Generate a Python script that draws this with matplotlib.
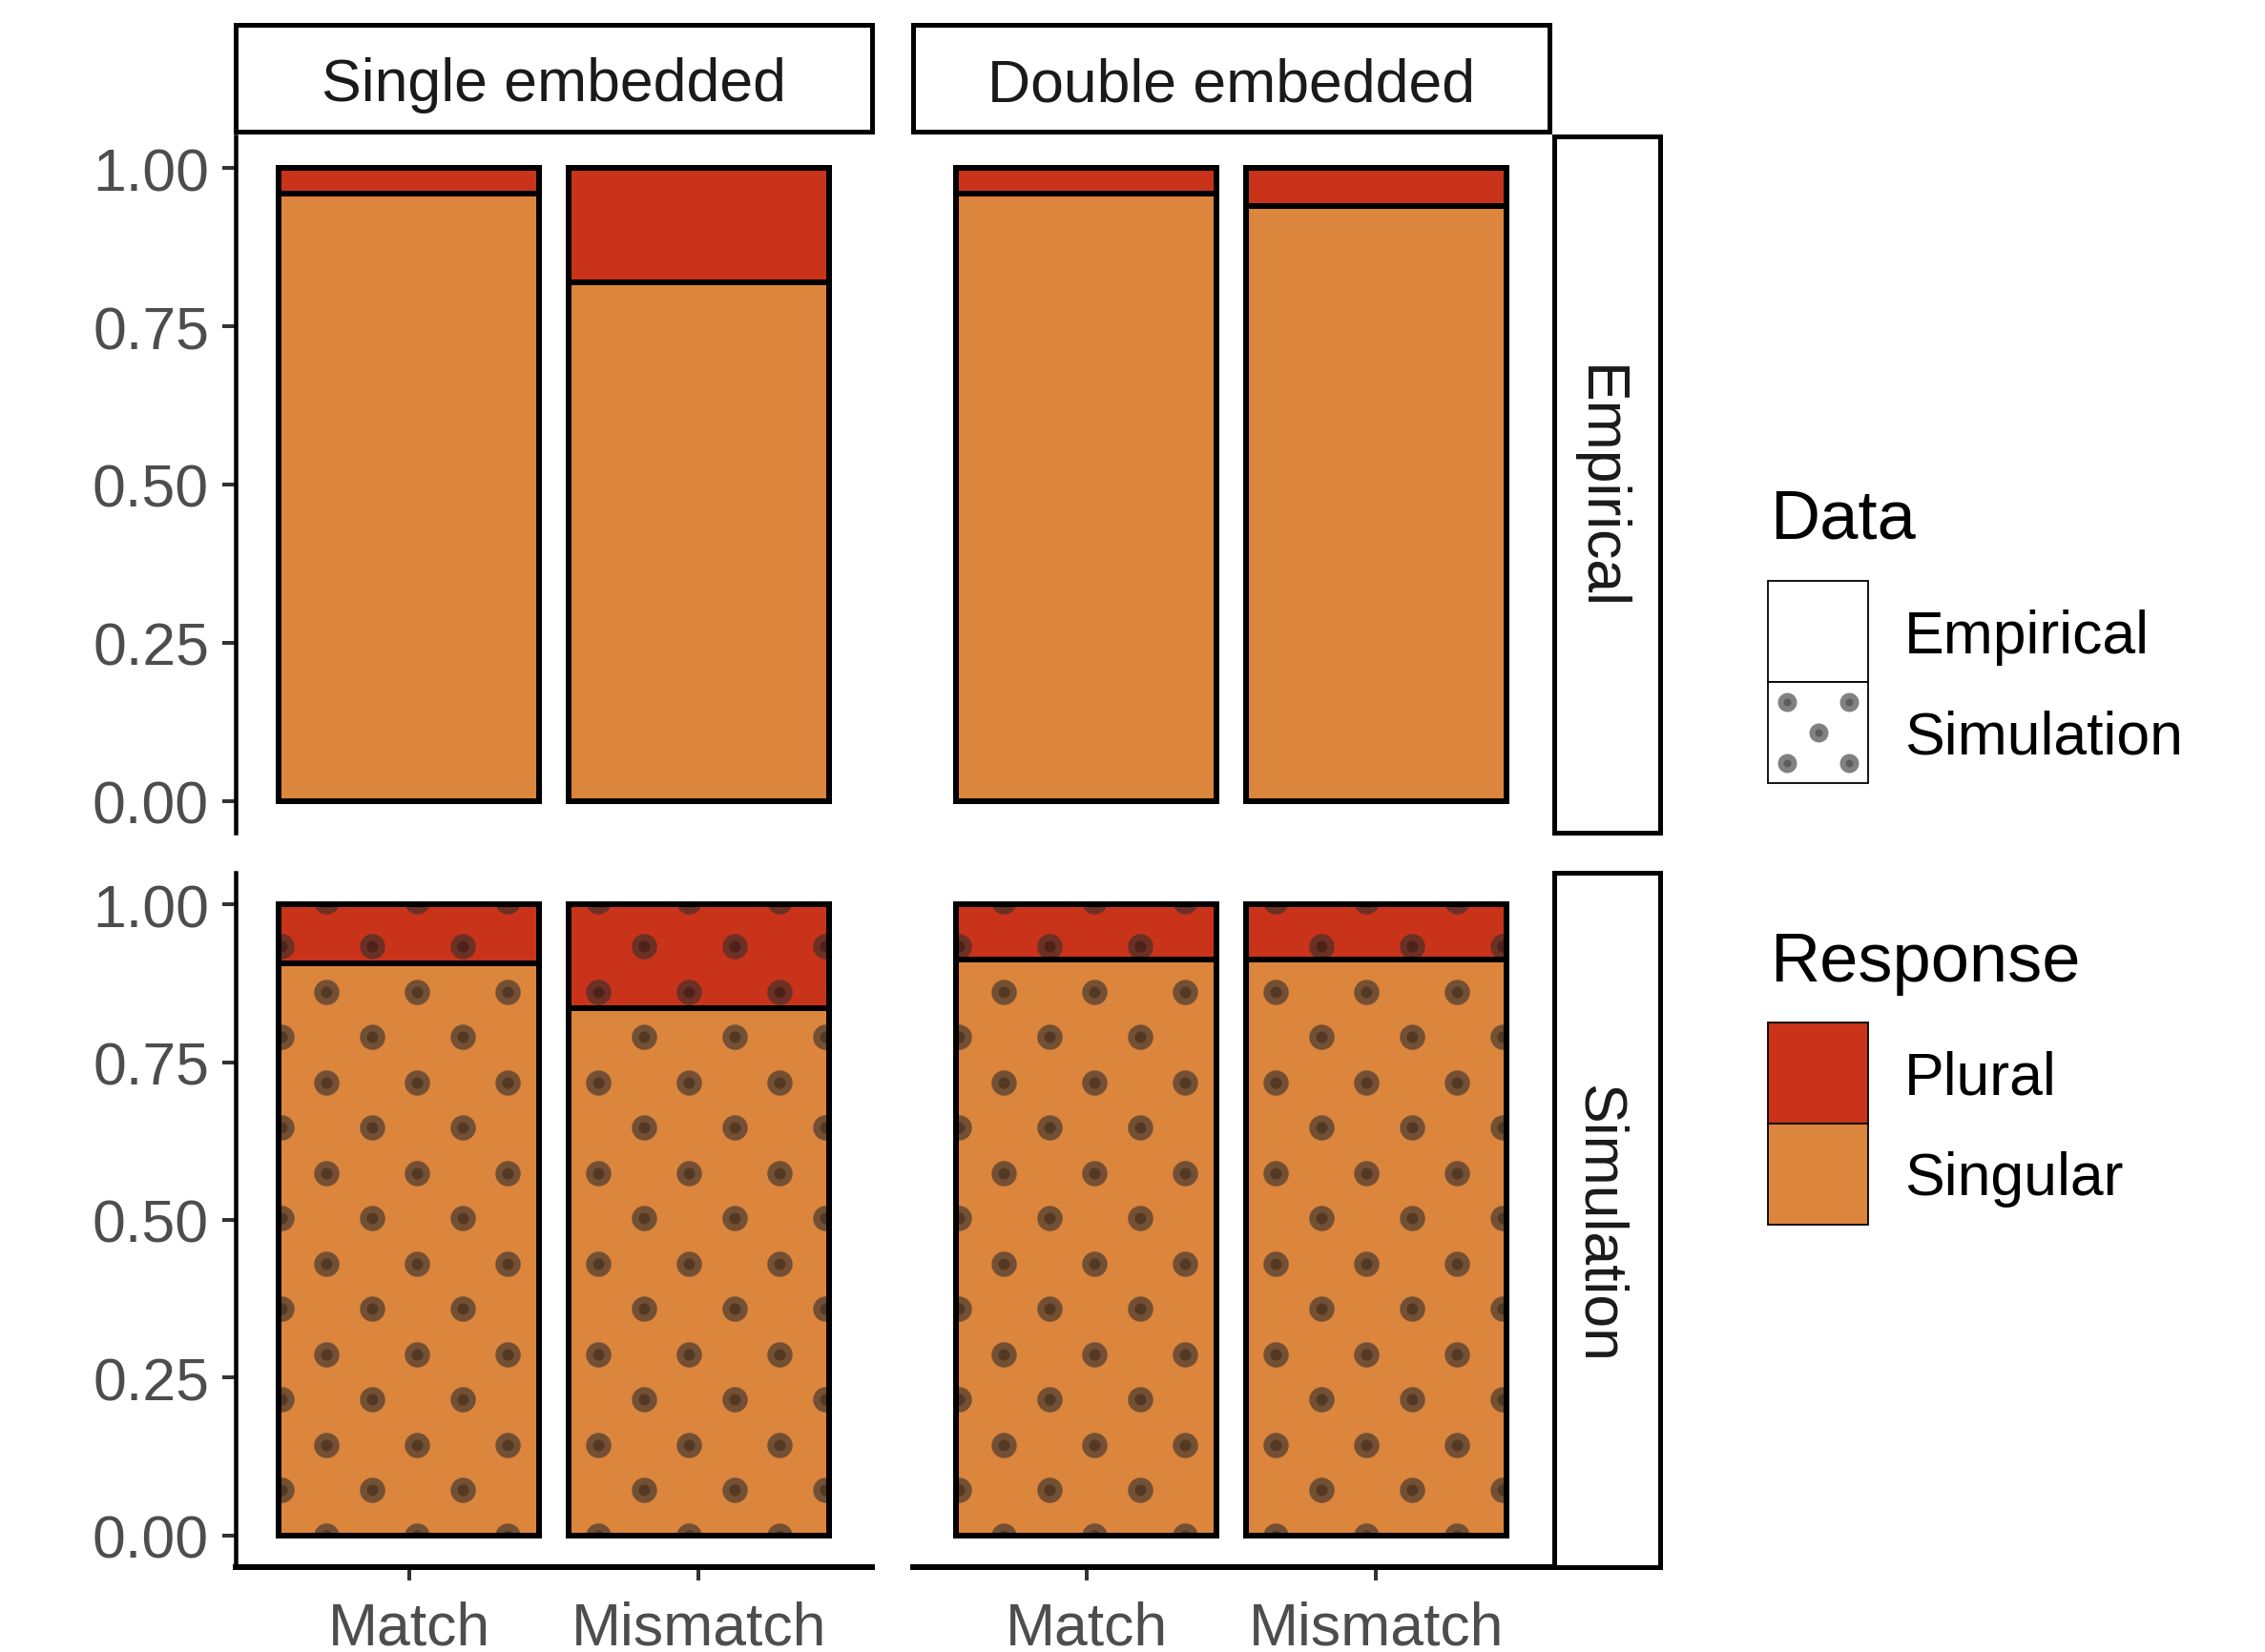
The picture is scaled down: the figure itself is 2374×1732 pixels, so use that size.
import numpy as np
import matplotlib
matplotlib.use('Agg')
import matplotlib.pyplot as plt
from matplotlib.patches import Rectangle

plt.rcParams['font.family'] = ['Liberation Sans', 'DejaVu Sans']

# data: share of plural responses per bar
groups = ['Single embedded', 'Double embedded']
conditions = ['Match', 'Mismatch']
sources = ['Empirical', 'Simulation']
responses = ['Plural', 'Singular']

plural_emp_single = [0.040, 0.180]
plural_emp_double = [0.040, 0.060]
plural_sim_single = [0.094, 0.165]
plural_sim_double = [0.088, 0.088]

plural = {
    ('Empirical', 'Single embedded'): plural_emp_single,
    ('Empirical', 'Double embedded'): plural_emp_double,
    ('Simulation', 'Single embedded'): plural_sim_single,
    ('Simulation', 'Double embedded'): plural_sim_double,
}

col_plural = '#C9331A'
col_singular = '#DC853C'
dot_halo = (0.18, 0.18, 0.18, 0.6)
dot_core = (0.0, 0.0, 0.0, 0.28)

W, H = 2374, 1733
DPI = 200
PT = 72 / DPI  # points per pixel
fig = plt.figure(figsize=(W / DPI, H / DPI), dpi=DPI)


def px_axes(x0, y0, x1, y1, **kw):
    return fig.add_axes([x0 / W, 1 - y1 / H, (x1 - x0) / W, (y1 - y0) / H], **kw)


col_px = [(247, 914), (957, 1624)]
row_px = [(144, 874), (916, 1644)]
xlim = (0.4, 2.6)
ylim = (-0.05, 1.05)
spacing = 47.5  # pattern spacing in pixels

for r, src in enumerate(sources):
    for c, grp in enumerate(groups):
        (x0, x1), (y0, y1) = col_px[c], row_px[r]
        ax = px_axes(x0, y0, x1, y1)
        ax.set_xlim(*xlim)
        ax.set_ylim(*ylim)
        ax.patch.set_alpha(0)
        for s in ax.spines.values():
            s.set_visible(False)

        p = np.array(plural[(src, grp)])
        sing = 1 - p
        x = np.arange(1, len(conditions) + 1)
        b1 = ax.bar(x, sing, 0.9, color=col_singular, lw=0, zorder=1)
        b2 = ax.bar(x, p, 0.9, bottom=sing, color=col_plural, lw=0, zorder=1)

        if src == 'Simulation':
            dx = spacing / ((x1 - x0) / (xlim[1] - xlim[0]))
            dy = spacing / ((y1 - y0) / (ylim[1] - ylim[0]))
            ii, jj = np.meshgrid(np.arange(0, 16), np.arange(0, 17))
            keep = (ii + jj) % 2 == 0
            gx = xlim[0] + ii[keep] * dx
            gy = jj[keep] * dy
            for patch in list(b1) + list(b2):
                bx, by = patch.get_x(), patch.get_y()
                bw, bh = patch.get_width(), patch.get_height()
                m = (gx > bx - dx) & (gx < bx + bw + dx) & (gy > by - dy) & (gy < by + bh + dy)
                for size, colr in [((26.5 * PT) ** 2, dot_halo), ((12 * PT) ** 2, dot_core)]:
                    sc = ax.scatter(gx[m], gy[m], s=size, color=colr, lw=0, zorder=2)
                    sc.set_clip_path(patch)

        ax.bar(x, sing, 0.9, fill=False, edgecolor='black', lw=6 * PT, zorder=3)
        ax.bar(x, p, 0.9, bottom=sing, fill=False, edgecolor='black', lw=6 * PT, zorder=3)

        if c == 0:
            ax.spines['left'].set_visible(True)
            ax.spines['left'].set_linewidth(4.5 * PT)
            ax.set_yticks([0, 0.25, 0.5, 0.75, 1.0])
            ax.set_yticklabels(['0.00', '0.25', '0.50', '0.75', '1.00'])
        else:
            ax.set_yticks([])
        if r == 1:
            ax.spines['bottom'].set_visible(True)
            ax.spines['bottom'].set_linewidth(6 * PT)
            ax.set_xticks(x)
            ax.set_xticklabels(conditions)
        else:
            ax.set_xticks([])
        ax.tick_params(axis='both', labelsize=22.5, labelcolor='#4D4D4D', color='#333333',
                       length=14 * PT, width=4 * PT)
        ax.tick_params(axis='y', pad=5)
        ax.tick_params(axis='x', pad=7.5)

        # strips
        if r == 0:
            st = px_axes(x0, 27, x1, 139)
            st.set_xticks([])
            st.set_yticks([])
            for s in st.spines.values():
                s.set_linewidth(5 * PT)
            st.text(0.5, 0.44, grp, ha='center', va='center', fontsize=22.5, color='#1A1A1A',
                    transform=st.transAxes)
        if c == 1:
            st = px_axes(1629, y0, 1740, y1)
            st.set_xticks([])
            st.set_yticks([])
            for s in st.spines.values():
                s.set_linewidth(5 * PT)
            st.text(0.42, 0.496, src, ha='center', va='center', fontsize=22.5, rotation=-90,
                    color='#1A1A1A', transform=st.transAxes)

# legends, drawn in pixel space
lg = px_axes(0, 0, W, H)
lg.set_xlim(0, W)
lg.set_ylim(H, 0)
lg.axis('off')
lg.patch.set_alpha(0)

kx, kw, kh = 1853, 105, 106
lx = 1996

lg.text(1855, 546, 'Data', fontsize=26, va='center', ha='left')
data_keys = [610, 716]
for src, ky in zip(sources, data_keys):
    lg.add_patch(Rectangle((kx, ky), kw, kh, facecolor='white', edgecolor='black', lw=1.8 * PT))
    if src == 'Simulation':
        fx = np.array([0.19, 0.81, 0.5, 0.19, 0.81])
        fy = np.array([0.2, 0.2, 0.5, 0.8, 0.8])
        lg.scatter(kx + fx * kw, ky + fy * kh, s=(20 * PT) ** 2, color=dot_halo, lw=0)
        lg.scatter(kx + fx * kw, ky + fy * kh, s=(8 * PT) ** 2, color=dot_core, lw=0)
    lg.text(lx, ky + kh / 2 + 5, src, fontsize=22.5, va='center', ha='left')

lg.text(1855, 1010, 'Response', fontsize=26, va='center', ha='left')
resp_keys = [1073, 1179]
for resp, ky, colr in zip(responses, resp_keys, [col_plural, col_singular]):
    lg.add_patch(Rectangle((kx, ky), kw, kh, facecolor=colr, edgecolor='black', lw=1.8 * PT))
    lg.text(lx, ky + kh / 2 + 5, resp, fontsize=22.5, va='center', ha='left')

fig.savefig('out.png', dpi=DPI)
